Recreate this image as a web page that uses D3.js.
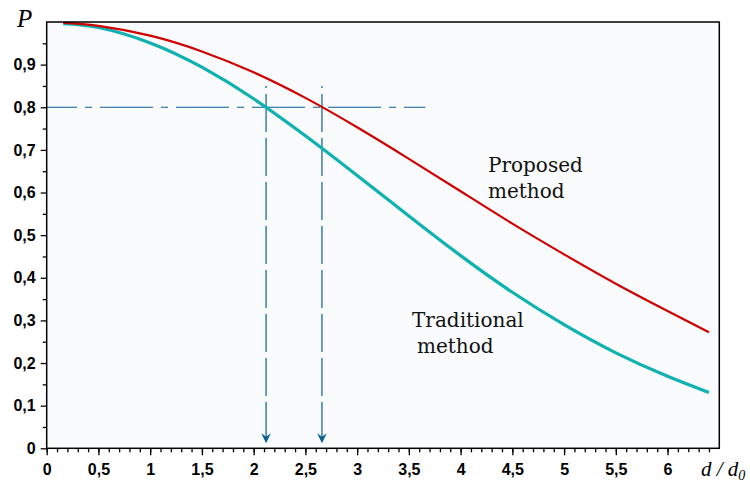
<!DOCTYPE html>
<html>
<head>
<meta charset="utf-8">
<script src="https://cdn.jsdelivr.net/npm/d3@7"></script>
<style>
  body { margin: 0; background: #fff; }
  .tick text { font-family: "Liberation Sans", Arial, sans-serif; font-size: 16px; font-weight: bold; fill: #000; }
</style>
</head>
<body>
<div id="chart"></div>
<script>
// values
var distance = [0.16, 0.5, 1.0, 1.5, 2.0, 2.5, 3.0, 3.5, 4.0, 4.5, 5.0, 5.5, 6.0, 6.4];
var proposed = [0.998, 0.991, 0.968, 0.931, 0.882, 0.822, 0.753, 0.679, 0.603, 0.527, 0.455, 0.386, 0.322, 0.272];
var traditional = [0.996, 0.987, 0.951, 0.894, 0.82, 0.733, 0.64, 0.545, 0.452, 0.366, 0.29, 0.224, 0.169, 0.131];

var xTicks = [0, 0.5, 1, 1.5, 2, 2.5, 3, 3.5, 4, 4.5, 5, 5.5, 6];
var xTickLabels = ["0", "0,5", "1", "1,5", "2", "2,5", "3", "3,5", "4", "4,5", "5", "5,5", "6"];
var yTicks = [0, 0.1, 0.2, 0.3, 0.4, 0.5, 0.6, 0.7, 0.8, 0.9];
var yTickLabels = ["0", "0,1", "0,2", "0,3", "0,4", "0,5", "0,6", "0,7", "0,8", "0,9"];

// reading lines: P = 0.8 for both methods
var levelP = 0.8;
var levelEnd = 3.66;
var markTop = 0.85;
var markX = [2.12, 2.66];

var width = 750,
    height = 483;

var x = d3.scaleLinear().domain([0, 6.5]).range([46.7, 719.3]);
var y = d3.scaleLinear().domain([0, 1]).range([448.3, 22]);

var svg = d3.select("#chart").append("svg")
    .attr("width", width)
    .attr("height", height);

svg.append("rect")
    .attr("x", x(0))
    .attr("y", y(1))
    .attr("width", x(6.5) - x(0))
    .attr("height", y(0) - y(1))
    .attr("fill", "#f9fbfd");

// minor ticks
var xMinor = d3.range(0, 65).map(function (i) { return i / 10; });
var yMinor = d3.range(1, 20, 2).map(function (i) { return i / 20; });

svg.append("g")
    .attr("transform", "translate(0," + y(0) + ")")
    .call(d3.axisBottom(x).tickValues(xMinor).tickSize(4).tickSizeOuter(0).tickFormat(""))
    .call(function (g) { g.select(".domain").remove(); });

svg.append("g")
    .attr("transform", "translate(" + x(0) + ",0)")
    .call(d3.axisLeft(y).tickValues(yMinor).tickSize(4).tickSizeOuter(0).tickFormat(""))
    .call(function (g) { g.select(".domain").remove(); });

svg.append("g")
    .attr("transform", "translate(0," + y(0) + ")")
    .call(d3.axisBottom(x).tickValues(xTicks).tickSize(7).tickPadding(8.5)
        .tickFormat(function (d, i) { return xTickLabels[i]; }))
    .call(function (g) { g.select(".domain").remove(); });

svg.append("g")
    .attr("transform", "translate(" + x(0) + ",0)")
    .call(d3.axisLeft(y).tickValues(yTicks).tickSize(6).tickPadding(5)
        .tickFormat(function (d, i) { return yTickLabels[i]; }))
    .call(function (g) { g.select(".domain").remove(); });

svg.selectAll(".tick line").attr("stroke", "#000").attr("stroke-width", 1.3);

var lineColor = "#0b5f8f";

svg.append("defs").append("marker")
    .attr("id", "arrow")
    .attr("markerUnits", "userSpaceOnUse")
    .attr("markerWidth", 12)
    .attr("markerHeight", 12)
    .attr("viewBox", "-6 -6 12 12")
    .attr("refX", 5)
    .attr("refY", 0)
    .attr("orient", "auto")
    .append("path")
    .attr("d", "M5,0 L-5,-4.8 L-1.5,0 L-5,4.8 Z")
    .attr("fill", lineColor);

svg.append("line")
    .attr("x1", x(0))
    .attr("x2", x(levelEnd))
    .attr("y1", y(levelP))
    .attr("y2", y(levelP))
    .attr("stroke", lineColor)
    .attr("stroke-width", 1.2)
    .attr("stroke-dasharray", "53,8,7,8")
    .attr("stroke-dashoffset", 22.7);

svg.selectAll(".mark")
    .data(markX)
    .enter().append("line")
    .attr("class", "mark")
    .attr("x1", function (d) { return x(d); })
    .attr("x2", function (d) { return x(d); })
    .attr("y1", y(markTop))
    .attr("y2", y(0) - 5)
    .attr("stroke", lineColor)
    .attr("stroke-width", 1.2)
    .attr("stroke-dasharray", "38,6")
    .attr("stroke-dashoffset", 36)
    .attr("marker-end", "url(#arrow)");

var line = d3.line()
    .x(function (d) { return x(d[0]); })
    .y(function (d) { return y(d[1]); })
    .curve(d3.curveNatural);

svg.append("path")
    .datum(d3.zip(distance, traditional))
    .attr("d", line)
    .attr("fill", "none")
    .attr("stroke", "#0fb1b1")
    .attr("stroke-width", 3.2);

svg.append("path")
    .datum(d3.zip(distance, proposed))
    .attr("d", line)
    .attr("fill", "none")
    .attr("stroke", "#d00000")
    .attr("stroke-width", 2.2);

svg.append("rect")
    .attr("x", x(0))
    .attr("y", y(1))
    .attr("width", x(6.5) - x(0))
    .attr("height", y(0) - y(1))
    .attr("fill", "none")
    .attr("stroke", "#000")
    .attr("stroke-width", 1.5);

// curve labels
var serif = "'DejaVu Serif', serif";
var notes = svg.append("g")
    .attr("font-family", serif)
    .attr("font-size", 20)
    .attr("fill", "#111");

notes.append("text").attr("x", 488).attr("y", 172).text("Proposed");
notes.append("text").attr("x", 488).attr("y", 198).text("method");
notes.append("text").attr("x", 412).attr("y", 327).text("Traditional");
notes.append("text").attr("x", 417).attr("y", 353).text("method");

// axis titles
svg.append("text")
    .attr("x", 17)
    .attr("y", 27)
    .attr("font-family", "'Liberation Serif', serif")
    .attr("font-style", "italic")
    .attr("font-size", 25)
    .text("P");

var xt = svg.append("text")
    .attr("x", 701)
    .attr("y", 476)
    .attr("font-family", "'Liberation Serif', serif")
    .attr("font-style", "italic")
    .attr("font-size", 21);
xt.append("tspan").text("d / d");
xt.append("tspan").attr("font-size", 14).attr("dy", 4).text("0");
</script>
</body>
</html>
